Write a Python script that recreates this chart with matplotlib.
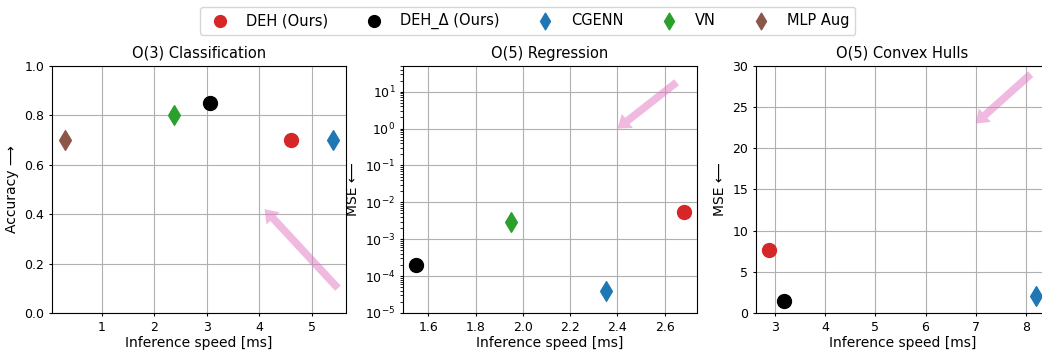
import matplotlib
matplotlib.use("Agg")
import matplotlib.pyplot as plt

methods = ["DEH (Ours)", "DEH_Δ (Ours)", "CGENN", "VN", "MLP Aug"]
colors = ["tab:red", "black", "tab:blue", "tab:green", "tab:brown"]
markers = ["o", "o", "d", "d", "d"]

# O(3) classification: inference speed [ms], accuracy
cls_speed = [4.60, 3.06, 5.40, 2.38, 0.30]
cls_acc = [0.70, 0.85, 0.70, 0.80, 0.70]

# O(5) regression: inference speed [ms], MSE
reg_speed = [2.68, 1.55, 2.35, 1.95]
reg_mse = [5.4e-3, 2.0e-4, 4.0e-5, 3.0e-3]

# O(5) convex hulls: inference speed [ms], MSE
hull_speed = [2.88, 3.18, 8.20]
hull_mse = [7.6, 1.5, 2.1]

plt.rcParams["font.size"] = 10
plt.rcParams["xtick.labelsize"] = 9
plt.rcParams["ytick.labelsize"] = 9
plt.rcParams["xtick.major.size"] = 2.5
plt.rcParams["ytick.major.size"] = 2.5
plt.rcParams["xtick.major.pad"] = 3
plt.rcParams["ytick.major.pad"] = 3
plt.rcParams["axes.labelpad"] = 2

fig = plt.figure(figsize=(10.42, 3.52), dpi=100)
ax1 = fig.add_axes([0.0499, 0.111, 0.2822, 0.7017])
ax2 = fig.add_axes([0.3868, 0.111, 0.2822, 0.7017])
ax3 = fig.add_axes([0.7255, 0.111, 0.2812, 0.7017])

arrow = dict(facecolor="tab:pink", edgecolor="none", alpha=0.5,
             width=5.5, headwidth=13, headlength=9)


def draw(ax, speeds, vals):
    for i in range(len(speeds)):
        ax.scatter(speeds[i], vals[i], c=colors[i], marker=markers[i],
                   s=100, zorder=3, label=methods[i])
    ax.grid(True)
    ax.set_xlabel("Inference speed [ms]")


draw(ax1, cls_speed, cls_acc)
ax1.set_ylim(0, 1)
ax1.set_title("O(3) Classification", fontsize=10.5)
ax1.set_ylabel("Accuracy ⟶", labelpad=4)
ax1.annotate("", xy=(4.1, 0.42), xytext=(5.5, 0.1), arrowprops=arrow)

draw(ax2, reg_speed, reg_mse)
ax2.set_yscale("log")
ax2.set_ylim(1e-5, 50)
ax2.set_title("O(5) Regression", fontsize=10.5)
ax2.set_ylabel("MSE ⟵", labelpad=4)
ax2.annotate("", xy=(2.4, 1.0), xytext=(2.65, 18), arrowprops=arrow)

draw(ax3, hull_speed, hull_mse)
ax3.set_ylim(0, 30)
ax3.set_title("O(5) Convex Hulls", fontsize=10.5)
ax3.set_ylabel("MSE ⟵", labelpad=4)
ax3.annotate("", xy=(7.0, 23), xytext=(8.1, 29), arrowprops=arrow)

handles, labels = ax1.get_legend_handles_labels()
fig.legend(handles, labels, loc="upper center", ncol=5, fontsize=10.5,
           markerscale=0.85, columnspacing=2.1,
           bbox_to_anchor=(527.5 / 1042, 1.0))

fig.savefig("out.png", dpi=100)
